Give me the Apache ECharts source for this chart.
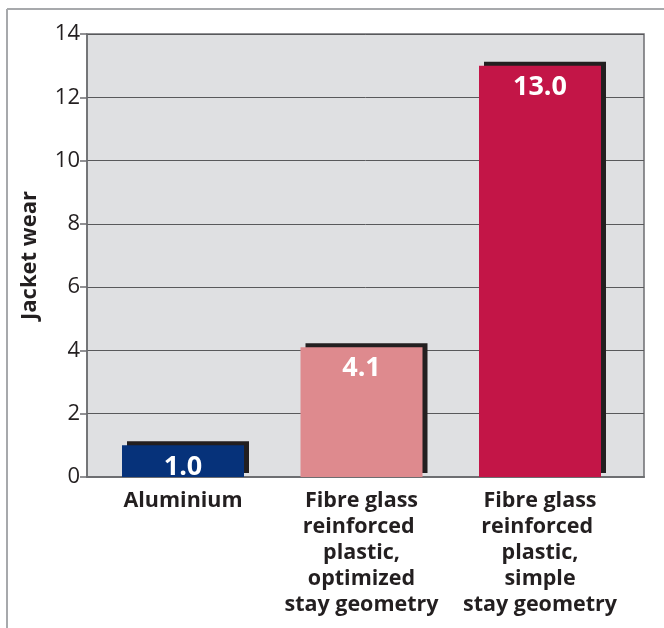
<!DOCTYPE html>
<html>
<head>
<meta charset="utf-8">
<script src="https://cdn.jsdelivr.net/npm/echarts@6/dist/echarts.min.js"></script>
<style>
  html, body { margin: 0; padding: 0; background: #ffffff; }
  #chart { width: 664px; height: 628px; }
</style>
</head>
<body>
<div id="chart"></div>
<script>
// Jacket wear by stay material
const categories = [
  'Aluminium',
  'Fibre glass\nreinforced \nplastic,\noptimized\nstay geometry',
  'Fibre glass\nreinforced \nplastic,\nsimple\nstay geometry'
];
const wearValues = [1.0, 4.1, 13.0];
const barColors = ['#06327a', '#de8a8e', '#c31547'];
const yTicks = { min: 0, max: 14, interval: 2 };

const FONT = '"Open Sans", "Noto Sans", sans-serif';
const INK = '#231f20';

const chart = echarts.init(document.getElementById('chart'), null, { renderer: 'canvas' });

chart.setOption({
  animation: false,
  backgroundColor: '#ffffff',
  graphic: [
    { type: 'line', shape: { x1: 7, y1: 9, x2: 664, y2: 9 }, style: { stroke: '#a7a9ac', lineWidth: 2 } },
    { type: 'line', shape: { x1: 7, y1: 9, x2: 7, y2: 628 }, style: { stroke: '#a7a9ac', lineWidth: 2 } }
  ],
  grid: [
    { left: 87, top: 34, width: 557, height: 443, show: true,
      backgroundColor: '#dfe0e2', borderColor: '#6d6e71', borderWidth: 1.5 },
    { left: 93.75, top: 34, width: 535.5, height: 443 }
  ],
  xAxis: [
    { gridIndex: 0, type: 'category', data: categories,
      axisLine: { show: true, lineStyle: { color: '#6d6e71', width: 2 } },
      axisTick: { show: false }, axisLabel: { show: false }, splitLine: { show: false } },
    { gridIndex: 1, type: 'category', data: categories,
      axisLine: { show: false }, axisTick: { show: false },
      axisLabel: { interval: 0, margin: 11, color: INK, fontFamily: FONT,
        fontWeight: 'bold', fontSize: 21.5, lineHeight: 26, align: 'center' } }
  ],
  yAxis: [
    { gridIndex: 0, type: 'value', min: yTicks.min, max: yTicks.max, interval: yTicks.interval,
      name: 'Jacket wear', nameLocation: 'middle', nameGap: 46,
      nameTextStyle: { color: INK, fontFamily: FONT, fontWeight: 'bold', fontSize: 22 },
      axisLine: { show: true, lineStyle: { color: '#6d6e71', width: 1.5 } },
      axisTick: { show: true, length: 7, lineStyle: { color: '#6d6e71', width: 1.5 } },
      axisLabel: { color: INK, fontFamily: FONT, fontSize: 22, margin: 7 },
      splitLine: { show: true, lineStyle: { color: '#58595b', width: 1 } } },
    { gridIndex: 1, type: 'value', min: yTicks.min, max: yTicks.max, interval: yTicks.interval,
      show: false, splitLine: { show: false } }
  ],
  series: [{
    type: 'bar',
    xAxisIndex: 1,
    yAxisIndex: 1,
    barWidth: 122,
    data: wearValues.map((v, i) => ({
      value: v,
      itemStyle: { color: barColors[i] }
    })),
    itemStyle: {
      borderWidth: 0,
      shadowColor: '#231f20',
      shadowBlur: 0,
      shadowOffsetX: 5,
      shadowOffsetY: -4
    },
    label: {
      show: true,
      position: 'insideTop',
      distance: 8,
      formatter: p => p.value.toFixed(1),
      color: '#ffffff',
      fontFamily: FONT,
      fontWeight: 'bold',
      fontSize: 27,
      textShadowColor: '#231f20',
      textShadowBlur: 0,
      textShadowOffsetX: 1.5,
      textShadowOffsetY: 1.5
    }
  }]
});
</script>
</body>
</html>
